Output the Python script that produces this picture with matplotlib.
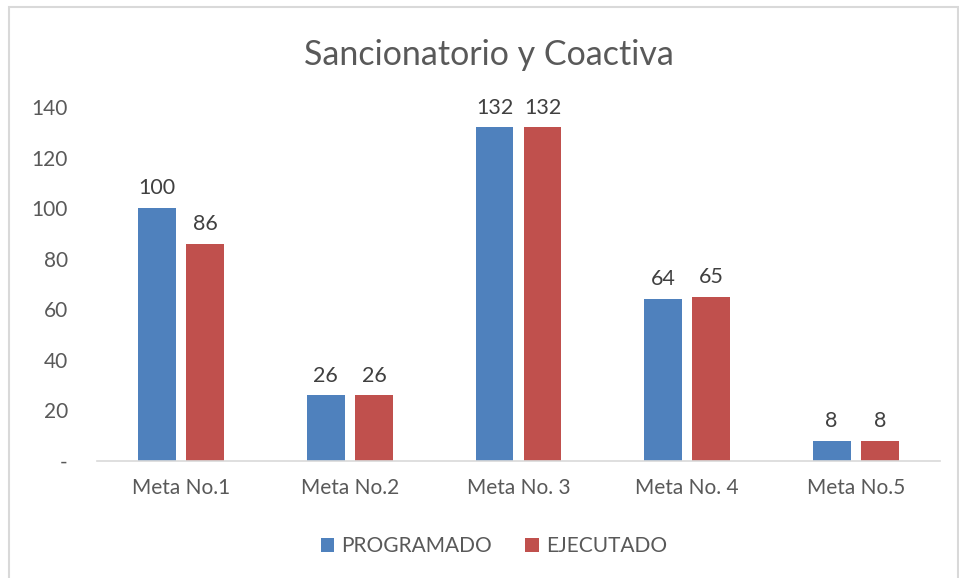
import matplotlib.pyplot as plt
import numpy as np
from matplotlib.patches import Rectangle

categorias = ['Meta No.1', 'Meta No.2', 'Meta No. 3', 'Meta No. 4', 'Meta No.5']
programado = [100, 26, 132, 64, 8]
ejecutado = [86, 26, 132, 65, 8]
yticks = [0, 20, 40, 60, 80, 100, 120, 140]
ytick_labels = ['-', '20', '40', '60', '80', '100', '120', '140']

gris = '#595959'
azul = '#4f81bd'
rojo = '#c0504d'

plt.rcParams['font.family'] = ['Lato', 'DejaVu Sans']

fig = plt.figure(figsize=(9.59, 5.78), dpi=100)
ax = fig.add_axes([97/959, 1-461/578, (940-97)/959, (461-107)/578])

x = np.arange(len(categorias))
w = 0.225
off = 0.1425
b1 = ax.bar(x-off, programado, w, color=azul, label='PROGRAMADO')
b2 = ax.bar(x+off, ejecutado, w, color=rojo, label='EJECUTADO')

for bars in (b1, b2):
    for r in bars:
        ax.annotate(str(int(r.get_height())), (r.get_x()+r.get_width()/2, r.get_height()),
                    xytext=(0, 7), textcoords='offset points', ha='center', va='bottom',
                    fontsize=15.5, color='#404040')

ax.set_xlim(-0.5, len(categorias)-0.5)
ax.set_ylim(0, 140)
ax.set_yticks(yticks)
ax.set_yticklabels(ytick_labels)
ax.set_xticks(x)
ax.set_xticklabels(categorias)
ax.tick_params(axis='both', length=0, labelsize=15, colors=gris)
ax.tick_params(axis='x', pad=12)
ax.tick_params(axis='y', pad=21)
for s in ['top', 'right', 'left']:
    ax.spines[s].set_visible(False)
ax.spines['bottom'].set_color('#d9d9d9')
ax.spines['bottom'].set_linewidth(1.2)

fig.text(489/959, 1-55/578, 'Sancionatorio y Coactiva', ha='center', va='center',
         fontsize=24.5, color=gris)

fig.legend(handles=[b1, b2], loc='center', bbox_to_anchor=(494/959, 1-546/578), ncol=2,
           frameon=False, fontsize=15, labelcolor=gris, handlelength=0.65,
           handleheight=0.65, handletextpad=0.35, columnspacing=1.6)

fig.patches.append(Rectangle((9/959, -0.1), (958-9)/959, 1.1-7/578, transform=fig.transFigure,
                             fill=False, edgecolor='#d9d9d9', linewidth=1.5))

fig.savefig('out.png', dpi=100)
